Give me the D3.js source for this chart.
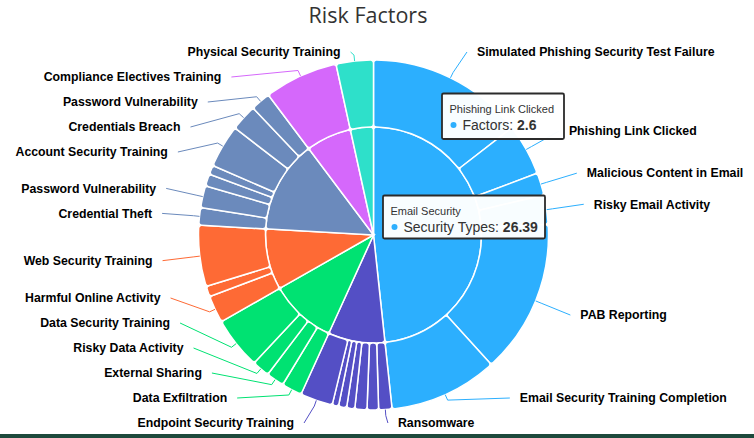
<!DOCTYPE html>
<html><head><meta charset="utf-8">
<script src="https://cdn.jsdelivr.net/npm/d3@7"></script>
<style>body{margin:0;background:#fff}svg{display:block}</style>
</head><body>
<svg id="chart" width="754" height="438"></svg>
<script>
// ---------------- DATA ----------------
const chartTitle = "Risk Factors";
const securityTypes = ["Email Security", "Endpoint Security", "Data Security", "Web Security",
  "Account Security", "Compliance", "Physical Security"];
const securityColors = ["#2caffe", "#544fc5", "#00e272", "#fe6a35", "#6b8abc", "#d568fb", "#2ee0ca"];

const factorNames = [
  "Simulated Phishing Security Test Failure", "Phishing Link Clicked", "Malicious Content in Email",
  "Risky Email Activity", "PAB Reporting", "Email Security Training Completion",
  "Ransomware", "Endpoint Factor 2", "Endpoint Factor 3", "Endpoint Factor 4", "Endpoint Factor 5",
  "Endpoint Factor 6", "Endpoint Security Training",
  "Data Exfiltration", "External Sharing", "Risky Data Activity", "Data Security Training",
  "Harmful Online Activity", "Web Factor 2", "Web Security Training",
  "Credential Theft", "Password Vulnerability", "Account Factor 3", "Account Factor 4",
  "Account Security Training", "Credentials Breach", "Password Vulnerability",
  "Compliance Electives Training",
  "Physical Security Training"
];
const factorTypes = [
  "Email Security", "Email Security", "Email Security", "Email Security", "Email Security", "Email Security",
  "Endpoint Security", "Endpoint Security", "Endpoint Security", "Endpoint Security", "Endpoint Security",
  "Endpoint Security", "Endpoint Security",
  "Data Security", "Data Security", "Data Security", "Data Security",
  "Web Security", "Web Security", "Web Security",
  "Account Security", "Account Security", "Account Security", "Account Security",
  "Account Security", "Account Security", "Account Security",
  "Compliance",
  "Physical Security"
];
const factorValues = [
  7.92, 2.6, 1.14, 1.47, 7.77, 5.49,
  0.67, 0.58, 0.61, 0.41, 0.41, 0.32, 1.64,
  1.03, 0.90, 0.88, 2.63,
  1.38, 0.53, 3.08,
  0.88, 1.11, 0.61, 0.46, 2.17, 1.34, 1.00,
  3.72,
  1.88
];
const innerSeriesName = "Security Types";
const outerSeriesName = "Factors";
const tooltipFactor = "Phishing Link Clicked";
const tooltipType = "Email Security";

// ---------------- LAYOUT ----------------
const W = 754, H = 438;
const cx = 373.5, cy = 235;
const R = 175, rInner = 108;
const labelR = 212.5, labelMinY = 52, labelMaxY = 423, labelGap = 25, maxLabelsPerSide = 14;

const svg = d3.select("#chart");
svg.append("rect").attr("width", W).attr("height", H).attr("fill", "#fff");

svg.append("text").attr("x", 368).attr("y", 23).attr("text-anchor", "middle")
  .attr("font-family", "'Open Sans', sans-serif").attr("font-size", 21.5).attr("fill", "#333")
  .text(chartTitle);

const color = d3.scaleOrdinal().domain(securityTypes).range(securityColors);

const factors = factorNames.map((n, i) => ({name: n, type: factorTypes[i], value: factorValues[i], i}));
const typeSums = d3.rollup(factors, v => d3.sum(v, d => d.value), d => d.type);
const types = securityTypes.map(t => ({name: t, value: typeSums.get(t)}));

const pie = d3.pie().sort(null).value(d => d.value).startAngle(0).endAngle(2 * Math.PI);
const innerArcs = pie(types);
const outerArcs = pie(factors);

const arcIn = d3.arc().innerRadius(0).outerRadius(rInner).cornerRadius(3);
const arcOut = d3.arc().innerRadius(rInner).outerRadius(R).cornerRadius(3);

const g = svg.append("g").attr("transform", `translate(${cx},${cy})`);
g.selectAll("path.inner").data(innerArcs).join("path").attr("class", "inner")
  .attr("d", arcIn).attr("fill", d => color(d.data.name))
  .attr("stroke", "#fff").attr("stroke-width", 1.5);
g.selectAll("path.outer").data(outerArcs).join("path").attr("class", "outer")
  .attr("d", arcOut).attr("fill", d => color(d.data.type))
  .attr("stroke", "#fff").attr("stroke-width", 1.5);

// ---- data labels (pie-style distribution) ----
const items = outerArcs.map(d => {
  const a = (d.startAngle + d.endAngle) / 2;
  return {d, a, left: a > Math.PI, natY: cy - labelR * Math.cos(a)};
});
const sides = [items.filter(o => !o.left), items.filter(o => o.left)];
const shown = [];
sides.forEach(side => {
  const keep = side.slice().sort((p, q) => q.d.value - p.d.value).slice(0, maxLabelsPerSide);
  keep.sort((p, q) => p.natY - q.natY);
  keep.forEach(o => o.y = Math.max(labelMinY, Math.min(labelMaxY, o.natY)));
  for (let i = 1; i < keep.length; i++) keep[i].y = Math.max(keep[i].y, keep[i - 1].y + labelGap);
  if (keep.length) keep[keep.length - 1].y = Math.min(keep[keep.length - 1].y, labelMaxY);
  for (let i = keep.length - 2; i >= 0; i--) keep[i].y = Math.min(keep[i].y, keep[i + 1].y - labelGap);
  shown.push(...keep);
});

shown.forEach(o => {
  const useY = (o.y < cy - R - 2 || o.y > cy + R + 2) ? o.natY : o.y;
  const dy = Math.max(-labelR, Math.min(labelR, useY - cy));
  const ex = cx + (o.left ? -1 : 1) * Math.sqrt(labelR * labelR - dy * dy);
  const s = Math.sin(o.a), c = Math.cos(o.a);
  const bx = cx + (R + 6) * s, by = cy - (R + 6) * c;
  const tx = cx + R * s, ty = cy - R * c;
  const col = color(o.d.data.type);
  svg.append("path").attr("d", `M${ex},${o.y}L${bx},${by}L${tx},${ty}`)
    .attr("fill", "none").attr("stroke", col).attr("stroke-width", 1);
  svg.append("text").attr("x", ex + (o.left ? -10 : 10)).attr("y", o.y).attr("dy", "0.35em")
    .attr("text-anchor", o.left ? "end" : "start")
    .attr("font-family", "'Liberation Sans', Arial, sans-serif").attr("font-weight", "bold")
    .attr("font-size", 12.3).attr("fill", "#000").text(o.d.data.name);
});

// ---- tooltips ----
function tooltip(x, y, w, h, header, series, value, col) {
  const t = svg.append("g");
  t.append("rect").attr("x", x).attr("y", y).attr("width", w).attr("height", h).attr("rx", 1.5)
    .attr("fill", "#fff").attr("fill-opacity", 0.97).attr("stroke", "#2b2b2b").attr("stroke-width", 1.8);
  t.append("text").attr("x", x + 7.5).attr("y", y + 19).attr("font-family", "'Liberation Sans', Arial, sans-serif")
    .attr("font-size", 11).attr("fill", "#333").text(header);
  t.append("circle").attr("cx", x + 11.5).attr("cy", y + 31.5).attr("r", 3).attr("fill", col);
  const tt = t.append("text").attr("x", x + 20.5).attr("y", y + 36.5)
    .attr("font-family", "'Liberation Sans', Arial, sans-serif").attr("font-size", 14).attr("fill", "#333");
  tt.append("tspan").text(series + ": ");
  tt.append("tspan").attr("font-weight", "bold").text(value);
}
const fIdx = factorNames.indexOf(tooltipFactor);
tooltip(442, 93.5, 122, 45.5, tooltipFactor, outerSeriesName, String(factorValues[fIdx]), color(factorTypes[fIdx]));
tooltip(383, 195.5, 162, 43, tooltipType, innerSeriesName, d3.format(".2f")(typeSums.get(tooltipType)), color(tooltipType));

// bottom strip
svg.append("rect").attr("x", 0).attr("y", 434).attr("width", W).attr("height", 4).attr("fill", "#1d4a3c");
</script>
</body></html>
